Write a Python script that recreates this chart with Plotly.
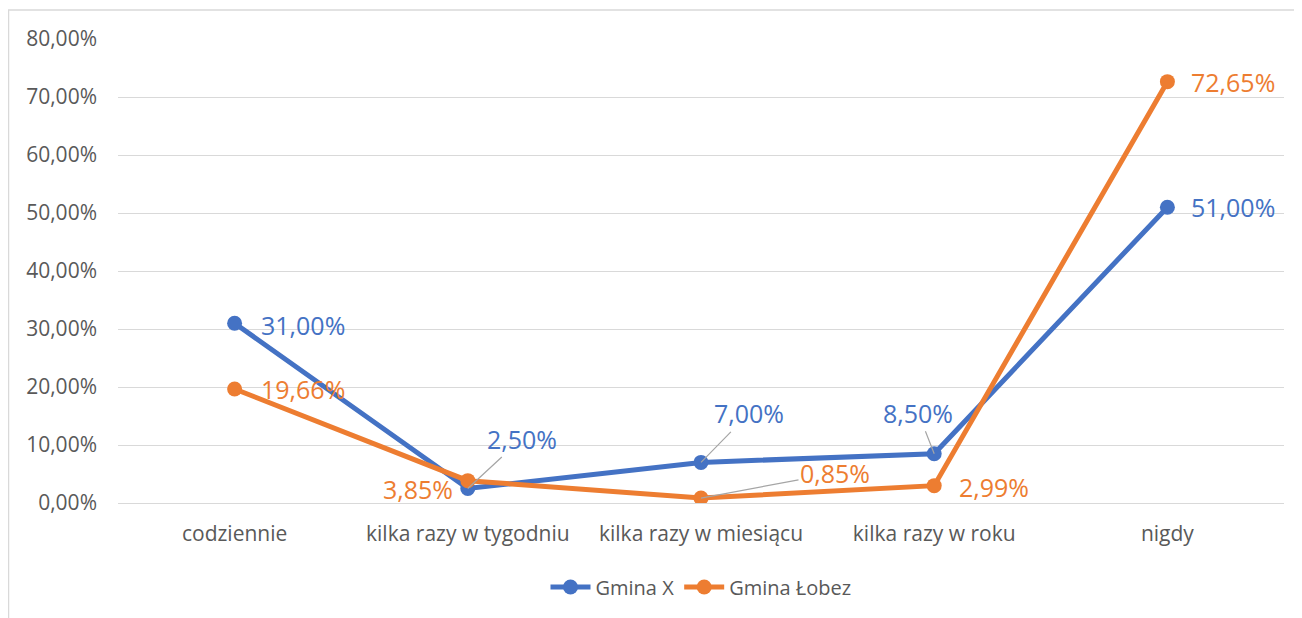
import plotly.graph_objects as go

categories = ["codziennie", "kilka razy w tygodniu", "kilka razy w miesiącu", "kilka razy w roku", "nigdy"]
gmina_x = [31.00, 2.50, 7.00, 8.50, 51.00]
gmina_lobez = [19.66, 3.85, 0.85, 2.99, 72.65]
series_names = ["Gmina X", "Gmina Łobez"]
y_ticks = [0, 10, 20, 30, 40, 50, 60, 70, 80]

BLUE = "#4472C4"
ORANGE = "#ED7D31"
FONT = "Open Sans"

def pct(v):
    return f"{v:.2f}%".replace(".", ",")

fig = go.Figure()
for name, vals, col in [(series_names[0], gmina_x, BLUE), (series_names[1], gmina_lobez, ORANGE)]:
    fig.add_trace(go.Scatter(
        x=categories, y=vals, name=name, mode="lines+markers",
        line=dict(color=col, width=5),
        marker=dict(color=col, size=15),
        hoverinfo="skip",
    ))

# label placement: (series idx, point idx, xshift, yshift, leader, ax, ay)
label_specs = [
    (0, 0, 68, -2, False, 0, 0),
    (1, 0, 68, 0, False, 0, 0),
    (0, 1, 0, 0, True, 54, -50),
    (1, 1, -50, -8, False, 0, 0),
    (0, 2, 0, 0, True, 48, -49),
    (1, 2, 0, 0, True, 134, -25),
    (0, 3, 0, 0, True, -16, -41),
    (1, 3, 60, -1, False, 0, 0),
    (1, 4, 66, 0, False, 0, 0),
    (0, 4, 66, 0, False, 0, 0),
]
data = [gmina_x, gmina_lobez]
cols = [BLUE, ORANGE]
for s, i, xs, ys, leader, ax, ay in label_specs:
    v = data[s][i]
    if leader:
        fig.add_annotation(x=categories[i], y=v, text=pct(v), showarrow=True,
                           ax=ax, ay=ay, axref="pixel", ayref="pixel",
                           arrowhead=0, arrowwidth=1.2, arrowcolor="#A5A5A5", standoff=0,
                           font=dict(family=FONT, size=25, color=cols[s]))
    else:
        fig.add_annotation(x=categories[i], y=v, text=pct(v), showarrow=False,
                           xshift=xs, yshift=ys,
                           font=dict(family=FONT, size=25, color=cols[s]))

# chart border (Excel chart area frame)
fig.add_shape(type="rect", xref="paper", yref="paper",
              x0=(0.5 - 110) / 1166, x1=1.2, y0=-0.5, y1=(495 - 2) / 464,
              line=dict(color="#D9D9D9", width=1.5), fillcolor="rgba(0,0,0,0)", layer="below")

fig.update_layout(
    width=1294, height=610,
    margin=dict(l=110, r=18, t=31, b=115),
    paper_bgcolor="white", plot_bgcolor="white",
    separators=", ",
    font=dict(family=FONT, color="#595959", size=17),
    showlegend=True,
    legend=dict(orientation="h", x=0.5, xanchor="center", y=-0.181, yanchor="middle",
                font=dict(family=FONT, size=20, color="#595959"), itemwidth=40,
                traceorder="normal"),
    xaxis=dict(type="category", range=[-0.5, 4.5], showgrid=False, zeroline=False,
               showline=False, ticks="", tickfont=dict(size=21, color="#595959"),
               ticklabelstandoff=16),
    yaxis=dict(range=[0, 80], tickvals=y_ticks, ticktext=[pct(t) for t in y_ticks],
               showgrid=True, gridcolor="#D9D9D9", gridwidth=1,
               zeroline=True, zerolinecolor="#D9D9D9", zerolinewidth=1,
               showline=False, ticks="", tickfont=dict(size=21, color="#595959"),
               ticklabelstandoff=20),
)

fig.write_html("out.html")
